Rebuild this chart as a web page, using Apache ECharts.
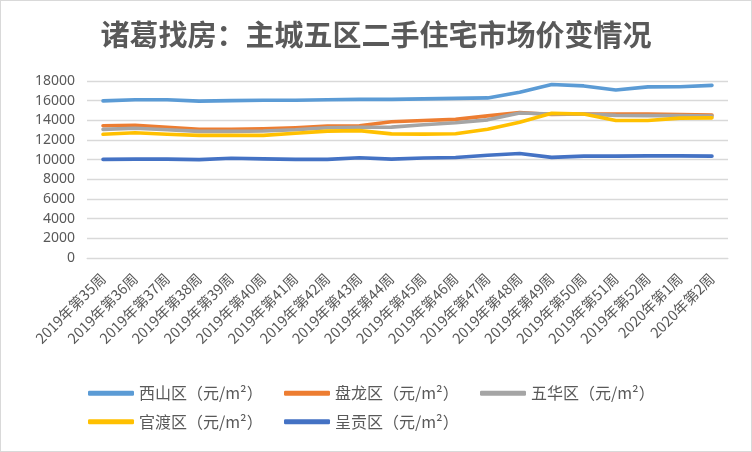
<!DOCTYPE html>
<html>
<head>
<meta charset="utf-8">
<script src="https://cdn.jsdelivr.net/npm/echarts@6/dist/echarts.min.js"></script>
<style>
html,body{margin:0;padding:0;background:#fff;}
#c{width:752px;height:452px;box-sizing:border-box;border:1px solid #d9d9d9;}
</style>
</head>
<body>
<div id="c"></div>
<script>
var categories = ['2019年第35周','2019年第36周','2019年第37周','2019年第38周','2019年第39周','2019年第40周','2019年第41周','2019年第42周','2019年第43周','2019年第44周','2019年第45周','2019年第46周','2019年第47周','2019年第48周','2019年第49周','2019年第50周','2019年第51周','2019年第52周','2020年第1周','2020年第2周'];
var seriesNames = ['西山区（元/m²）','盘龙区（元/m²）','五华区（元/m²）','官渡区（元/m²）','呈贡区（元/m²）'];
var xishan = [15980,16100,16100,15950,16000,16050,16050,16100,16130,16130,16180,16230,16280,16850,17650,17500,17080,17400,17420,17560];
var panlong = [13450,13500,13300,13080,13080,13150,13250,13420,13450,13850,13980,14100,14450,14800,14600,14650,14650,14650,14600,14530];
var wuhua = [13080,13200,13050,12880,12880,12920,13040,13250,13300,13310,13550,13760,14050,14750,14650,14650,14500,14480,14480,14430];
var guandu = [12580,12740,12580,12470,12470,12470,12680,12900,12950,12620,12600,12640,13100,13800,14720,14650,13980,13980,14220,14250];
var chenggong = [10030,10060,10060,10000,10150,10080,10030,10030,10190,10060,10170,10220,10450,10630,10230,10360,10360,10390,10390,10360];
var colors = ['#5B9BD5','#ED7D31','#A5A5A5','#FFC000','#4472C4'];
var allData = [xishan, panlong, wuhua, guandu, chenggong];

var chart = echarts.init(document.getElementById('c'), null, {renderer:'canvas'});
var series = allData.map(function(d, i){
  return {
    name: seriesNames[i],
    type: 'line',
    data: d,
    showSymbol: false,
    symbol: 'none',
    lineStyle: {width: 3.6, color: colors[i], cap: 'round', join: 'round'},
    itemStyle: {color: colors[i]}
  };
});
chart.setOption({
  animation: false,
  color: colors,
  title: {
    text: '诸葛找房：主城五区二手住宅市场价变情况',
    left: 'center',
    top: 14,
    textStyle: {fontFamily: 'Noto Sans CJK SC', fontSize: 29, fontWeight: 'bold', color: '#595959'}
  },
  grid: {left: 86, right: 23, top: 80, bottom: 193, containLabel: false},
  legend: {
    left: 87, top: 378, width: 640, padding: 0,
    itemWidth: 46, itemHeight: 5, icon: 'roundRect', itemGap: 0,
    textStyle: {fontFamily: 'Noto Sans CJK SC', fontSize: 16, color: '#595959', width: 145, lineHeight: 28.5}
  },
  xAxis: {
    type: 'category',
    data: categories,
    boundaryGap: true,
    axisLine: {show: true, lineStyle: {color: '#d9d9d9', width: 1}},
    axisTick: {show: false},
    axisLabel: {rotate: 45, interval: 0, margin: 18, fontSize: 14.5, color: '#595959', fontFamily: 'Noto Sans CJK SC'}
  },
  yAxis: {
    type: 'value',
    min: 0, max: 18000, interval: 2000,
    axisLine: {show: false},
    axisTick: {show: false},
    splitLine: {lineStyle: {color: '#d9d9d9', width: 1.3}},
    axisLabel: {margin: 12, fontSize: 14, color: '#595959', fontFamily: 'Noto Sans', formatter: function(v){ return String(v); }}
  },
  series: series
});
</script>
</body>
</html>
